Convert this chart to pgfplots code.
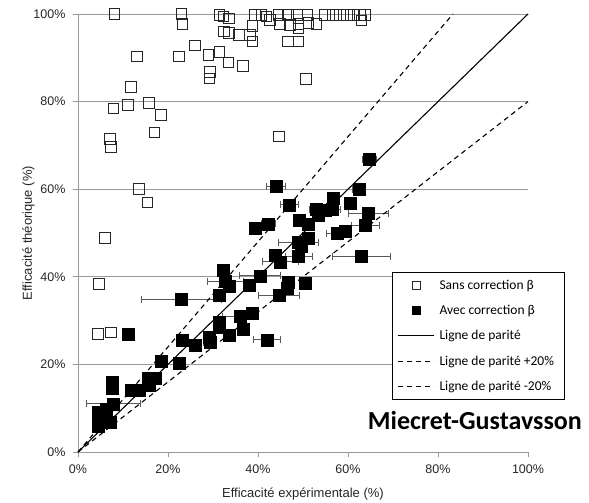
\documentclass[border=0pt]{standalone}
\usepackage{pgfplots}
\pgfplotsset{compat=1.18}
\usepackage{pgfplotstable}
\usepackage{fontspec}
\setmainfont{Liberation Sans}
\newfontfamily\calibri{Carlito}

\pgfplotsset{
  linelegend/.style={legend image code/.code={\draw[##1] (2pt,0pt) -- (38pt,0pt);}},
  marklegend/.style={legend image code/.code={\draw[##1, mark size=4pt] plot coordinates {(20pt,0pt)};}},
}

\pgfplotstableread{
x y
8.1 100
23.0 100
23.2 97.7
31.4 99.8
32.3 99.4
33.6 99.0
32.4 96.0
33.6 95.7
35.8 95.2
38.2 95.2
38.8 93.7
38.8 97.3
39.3 99.8
40.8 99.8
41.9 99.4
42.7 98.6
44.5 99.8
44.9 97.7
46.7 99.8
47.1 97.5
48.7 99.8
49.0 97.7
49.0 96.7
51.0 99.8
51.2 97.9
53.0 97.7
54.9 99.8
56.7 99.8
58.2 99.8
59.7 99.8
61.2 99.8
62.7 99.8
63.0 98.5
63.8 99.8
46.7 93.7
49.0 93.7
26.0 92.8
13.1 90.3
22.4 90.3
29.0 90.6
31.4 91.4
33.4 88.9
36.6 88.1
29.3 86.8
29.2 85.3
50.6 85.2
44.7 72.0
11.8 83.4
7.9 78.4
11.1 79.2
15.8 79.7
18.5 76.9
17.0 73.0
7.1 71.5
7.3 69.6
13.6 60.1
15.4 57.0
6.0 48.9
4.7 38.4
4.5 26.9
7.3 27.3
}\sans

\pgfplotstableread{
x y ex
11.2 26.9 0
39.3 51.1 0
32.3 41.6 1.2
32.7 38.9 4
33.6 37.9 0
23.0 34.9 8.9
31.3 35.7 0
38.0 38.1 0
36.0 31.0 4
38.7 31.7 0
31.4 29.6 0
31.4 28.6 0
36.7 28.0 0
33.6 26.7 0
23.2 25.6 0
26.1 24.3 0
29.2 26.2 0
29.3 25.1 1.5
42.0 25.6 3
18.5 20.8 0
22.5 20.2 0
15.6 16.8 0
17.1 16.8 0
15.8 15.3 0
7.5 16.0 0
7.5 14.5 0
11.9 14.0 0
13.6 14.0 0
7.9 11.0 6.1
6.2 9.8 0
4.5 9.0 0
4.5 7.5 0
7.1 6.9 0
4.5 5.8 0
44.0 60.7 2.1
62.5 60.0 1.4
56.7 57.9 0
60.4 56.8 0
47.0 56.4 2
53.0 55.4 0
54.9 55.3 3.5
56.4 55.4 0
53.4 54.1 0
64.5 54.5 4.4
49.2 53.0 0
51.2 52.1 0
63.8 51.8 3.1
42.3 52.1 1.5
57.6 49.9 2.4
59.3 50.3 0
51.2 48.8 0
49.0 47.8 4.4
49.7 47.0 0
43.8 45.0 0
44.9 43.4 4
49.0 44.7 3
63.0 44.6 6.4
40.4 40.2 4.6
46.7 38.7 0
46.4 37.3 0
50.5 38.6 0
44.7 35.7 4.5
64.8 66.8 1.5
}\avec

\begin{document}
\begin{tikzpicture}
\begin{axis}[
  scale only axis,
  width=450pt, height=438pt,
  xmin=0, xmax=100, ymin=0, ymax=100,
  clip=false,
  axis lines*=left,
  axis line style={draw=black!40, line width=0.8pt, -},
  xtick={0,20,...,100}, ytick={0,20,...,100},
  xticklabel={\pgfmathprintnumber{\tick}\%},
  yticklabel={\pgfmathprintnumber{\tick}\%},
  /pgf/number format/assume math mode=true,
  tick align=outside,
  major tick length=5pt,
  major tick style={draw=black!40, line width=0.8pt},
  ymajorgrids,
  grid style={draw=black!40, line width=0.8pt},
  ticklabel style={font=\fontsize{12.5}{15}\selectfont, text=black!85},
  xticklabel style={yshift=-4pt},
  yticklabel style={xshift=-4pt},
  xlabel={Efficacité expérimentale (\%)},
  ylabel={Efficacité théorique (\%)},
  label style={font=\fontsize{13}{15}\selectfont, text=black!85},
  xlabel style={yshift=-8pt},
  ylabel style={yshift=-8pt},
  legend cell align=left,
  legend style={at={(rel axis cs:0.698,0.41)}, anchor=north west,
    draw=black, fill=white, line width=0.6pt,
    font=\calibri\fontsize{13.5}{16}\selectfont,
    nodes={inner xsep=5pt},
    row sep=10.5pt, inner xsep=5pt, inner ysep=5pt},
]
\addplot[only marks, mark=square, mark size=5.3pt, draw=black!85, line width=0.9pt, marklegend]
  table[x=x,y=y]{\sans};
\addlegendentry{Sans correction β}
\addplot[only marks, mark=square*, mark size=6pt, black, marklegend,
  error bars/.cd, x dir=both, x explicit,
  error bar style={draw=black!65, line width=1pt},
  error mark options={draw=black!65, line width=1pt, mark size=3.5pt, rotate=90},
  ]
  table[x=x,y=y,x error=ex]{\avec};
\addlegendentry{Avec correction β}
\addplot[black, line width=1.1pt, mark=none, linelegend]
  coordinates {(0,0) (100,100)};
\addlegendentry{Ligne de parité}
\addplot[black, line width=1.1pt, dash pattern=on 5pt off 4pt, mark=none, linelegend]
  coordinates {(0,0) (83.333,100)};
\addlegendentry{Ligne de parité +20\%}
\addplot[black, line width=1.1pt, dash pattern=on 5pt off 4pt, mark=none, linelegend]
  coordinates {(0,0) (100,80)};
\addlegendentry{Ligne de parité -20\%}
\node[font=\calibri\bfseries\fontsize{26}{30}\selectfont, anchor=center]
  at (rel axis cs:0.882,0.073) {Miecret-Gustavsson};
\end{axis}
\pgfresetboundingbox
\path[use as bounding box] (-78pt,-51pt) rectangle (511pt,452pt);
\end{tikzpicture}
\end{document}
